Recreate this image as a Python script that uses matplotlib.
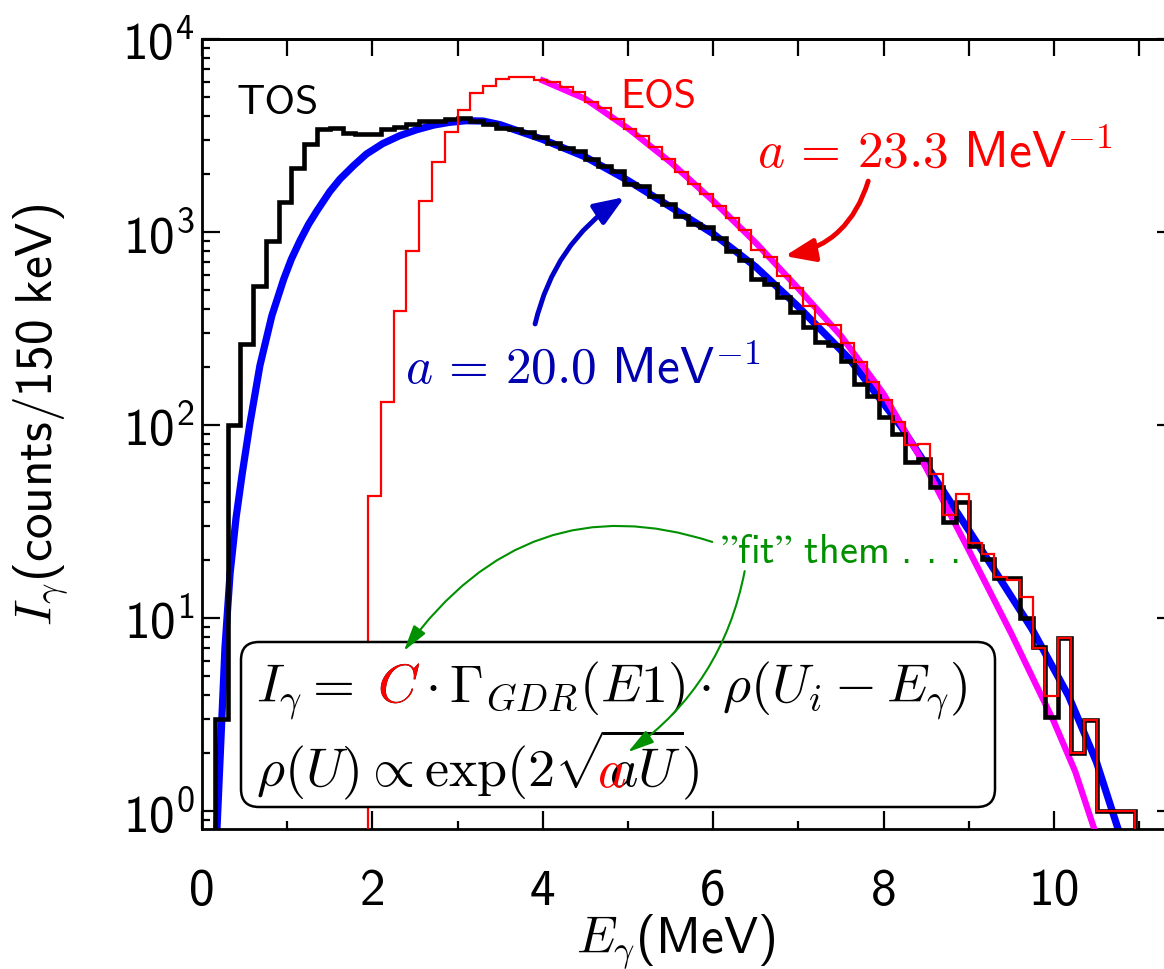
import numpy as np
import matplotlib
matplotlib.use("Agg")
import matplotlib.pyplot as plt
from matplotlib.patches import FancyBboxPatch
from matplotlib.ticker import MultipleLocator, LogLocator, FuncFormatter, NullFormatter
from matplotlib.transforms import offset_copy

plt.rcParams['mathtext.fontset'] = 'cm'
plt.rcParams['font.family'] = ['cmss10', 'DejaVu Sans']

# gamma spectra, 150 keV bins
BIN_WIDTH = 0.15
TOS_FIRST_EDGE = 0.15
tos_counts = [3, 100, 263, 527, 901, 1425, 2147, 2858, 3400, 3480,
              3260, 3220, 3220, 3400, 3500, 3640, 3760, 3780, 3840, 3880,
              3750, 3620, 3480, 3400, 3310, 3105, 2900, 2715, 2630, 2380,
              2198, 2070, 1778, 1730, 1537, 1390, 1210, 1096, 1060, 930,
              800, 715, 571, 538, 459, 387, 321, 268, 261, 215,
              163, 142, 110, 90, 64, 67, 48, 31.5, 40, 23.5,
              20.2, 16.1, 16.1, 10.0, 7.05, 3.06, 7.85, 2.01, 2.98, 1.0,
              1.0, 1.0]
EOS_FIRST_EDGE = 1.95
eos_counts = [43, 132, 391, 800, 1452, 2313, 3283, 4295, 5230, 5725,
              6205, 6330, 6330, 6135, 5970, 5625, 5300, 4735, 4375, 3875,
              3440, 3130, 2745, 2390, 2040, 1773, 1574, 1360, 1180, 1030,
              810, 739, 591, 511, 414, 334, 330, 267, 213, 168,
              135, 104, 79, 80, 56, 34, 44, 24.4, 21.6, 16.4,
              15.7, 12.9, 6.97, 3.96, 7.85, 2.01, 2.98, 1.0, 1.0, 1.0]

# fitted curves (a = 20.0 and a = 23.3 MeV^-1)
fit20_energy = [0.17, 0.22, 0.27, 0.33, 0.40, 0.47, 0.56, 0.68, 0.82, 0.96,
                1.05, 1.15, 1.25, 1.35, 1.50, 1.62, 1.78, 1.93, 2.12, 2.32,
                2.52, 2.72, 2.90, 3.10, 3.30, 3.50, 4.00, 4.50, 5.00, 5.50,
                6.00, 6.50, 7.00, 7.60, 8.20, 8.66, 9.00, 9.21, 9.74, 10.17,
                10.50, 10.74, 10.80]
fit20_counts = [0.7, 2.2, 7.0, 17, 33, 55, 100, 203, 368, 571,
                725, 901, 1095, 1289, 1620, 1882, 2210, 2536, 2870, 3156,
                3390, 3583, 3700, 3775, 3760, 3600, 3020, 2450, 1850, 1350,
                980, 660, 410, 220, 99, 48.5, 28.5, 20.5, 8.8, 3.96,
                1.79, 0.84, 0.7]
fit23_energy = [4.00, 4.50, 5.00, 5.50, 6.00, 6.50, 7.00, 7.50, 8.00, 8.50,
                9.00, 9.50, 10.00, 10.25, 10.46, 10.50]
fit23_counts = [6100, 4900, 3450, 2300, 1450, 880, 510, 290, 145, 60,
                22.5, 8.3, 2.9, 1.6, 0.84, 0.75]

tos_edges = np.round(TOS_FIRST_EDGE + BIN_WIDTH * np.arange(len(tos_counts) + 1), 2)
eos_edges = np.round(EOS_FIRST_EDGE + BIN_WIDTH * np.arange(len(eos_counts) + 1), 2)

fig = plt.figure(figsize=(11.64, 9.70), dpi=100)
ax = fig.add_axes([0.1735, 0.1443, 0.8359, 0.8144])

ax.plot(fit20_energy, fit20_counts, color='#0000ff', lw=5.2, zorder=2)
ax.plot(fit23_energy, fit23_counts, color='#ff00ff', lw=4.5, zorder=3)
ax.stairs(tos_counts, tos_edges, color='black', lw=3.3, zorder=4)
ax.stairs(eos_counts, eos_edges, color='#ff0000', lw=1.6, zorder=5)

ax.set_yscale('log')
ax.set_xlim(0, 11.42)
ax.set_ylim(0.807, 1e4)

ax.xaxis.set_major_locator(MultipleLocator(2))
ax.xaxis.set_minor_locator(MultipleLocator(1))
ax.yaxis.set_major_locator(LogLocator(base=10, numticks=10))
ax.yaxis.set_minor_locator(LogLocator(base=10, subs=np.arange(2, 10), numticks=20))
ax.yaxis.set_minor_formatter(NullFormatter())
ax.xaxis.set_major_formatter(FuncFormatter(lambda v, p: '%d' % v))
ax.yaxis.set_major_formatter(FuncFormatter(lambda v, p: r'$\mathregular{10^{%d}}$' % round(np.log10(v))))

ax.tick_params(which='both', direction='in', bottom=True, left=True, right=True, top=False)
ax.tick_params(which='major', length=13, width=1.6, labelsize=37)
ax.tick_params(which='minor', length=6, width=1.6)
ax.tick_params(axis='x', which='major', pad=28)
ax.tick_params(axis='y', which='major', pad=5)
for sp in ax.spines.values():
    sp.set_linewidth(2.0)

top = ax.secondary_xaxis('top')
top.set_xticks(np.arange(0, 12))
top.tick_params(direction='in', length=12, width=1.6, labeltop=False)
top.spines['top'].set_linewidth(2.0)

ax.set_xlabel(r'$E_\gamma\mathregular{(MeV)}$', fontsize=37)
ax.set_ylabel(r'$I_\gamma\mathregular{(counts/150\ keV)}$', fontsize=37)
ax.xaxis.set_label_coords(0.487, -0.104)
ax.yaxis.set_label_coords(-0.135, 0.526)

# labels on the plot
ax.text(0.41, 4140, 'TOS', fontsize=30, va='baseline')
ax.text(4.91, 4446, 'EOS', fontsize=29, color='#ff0000', va='baseline')
ax.text(6.51, 2198, r'$a \,=\, 23.3\ \mathregular{MeV}^{-1}$', fontsize=37, color='#ff0000', va='baseline')
ax.text(2.38, 167, r'$a \,=\, 20.0\ \mathregular{MeV}^{-1}$', fontsize=37, color='#0000b0', va='baseline')
ax.text(6.08, 19.5, '$\\mathregular{\u201dfit\u201d\\ them\\ .\\,.\\,.}$', fontsize=29,
        color='#009000', va='baseline')

ax.annotate('', xy=(4.96, 1518), xytext=(3.91, 334),
            arrowprops=dict(arrowstyle='-|>,head_length=0.9,head_width=0.35', mutation_scale=20,
                            color='#0000c8', lw=3.5, shrinkA=0, shrinkB=0,
                            connectionstyle='arc3,rad=-0.2'))
ax.annotate('', xy=(6.84, 751), xytext=(7.82, 1837),
            arrowprops=dict(arrowstyle='-|>,head_length=0.9,head_width=0.35', mutation_scale=20,
                            color='#ee0000', lw=3.5, shrinkA=0, shrinkB=0,
                            connectionstyle='arc3,rad=-0.3'))

# formula box
box = FancyBboxPatch((2.41, 1.62), 7.54, 1.65, boxstyle='round,pad=0,rounding_size=0.18',
                     transform=fig.dpi_scale_trans, facecolor='white', edgecolor='black',
                     lw=1.8, zorder=6)
ax.add_patch(box)

FSZ = 39
line1 = r'$I_\gamma = \; C \cdot \Gamma_{GDR}(E1) \cdot \rho(U_i - E_\gamma)$'
line2 = r'$\rho(U) \propto \exp(2\sqrt{aU})$'
x0 = 0.634
ax.text(x0, 3.71, line1, fontsize=FSZ, va='baseline', zorder=7)
ax.text(x0, 1.35, line2, fontsize=FSZ, va='baseline', zorder=7)

renderer = fig.canvas.get_renderer()


def text_width(s):
    t = ax.text(0, 0, s, fontsize=FSZ, transform=ax.transAxes)
    w = t.get_window_extent(renderer).width
    t.remove()
    return w


# red C and a drawn exactly over the black glyphs
dx_c = text_width(r'$I_\gamma = \; C$') - text_width(r'$C$')
ax.text(x0, 3.71, r'$C$', fontsize=FSZ, va='baseline', color='#ff0000', zorder=8,
        transform=offset_copy(ax.transData, fig=fig, x=dx_c, units='dots'))

thick = 0.75 / 12.0 * FSZ * fig.dpi / 72.0
adv_a = text_width(r'$aa$') - text_width(r'$a$')
dx_a = text_width(r'$\rho(U) \propto \exp(2\sqrt{a}$') - adv_a - 2 * thick - 2
ax.text(x0, 1.35, r'$a$', fontsize=FSZ, va='baseline', color='#ff0000', zorder=8,
        transform=offset_copy(ax.transData, fig=fig, x=dx_a, units='dots'))

green = dict(arrowstyle='-|>,head_length=0.8,head_width=0.22', mutation_scale=20,
             color='#009000', lw=1.5, shrinkA=0, shrinkB=0)
ax.annotate('', xy=(2.37, 6.75), xytext=(5.99, 24.8), zorder=9,
            arrowprops=dict(green, connectionstyle='angle3,angleA=162,angleB=54'))
ax.annotate('', xy=(5.0, 2.02), xytext=(6.37, 17.5), zorder=9,
            arrowprops=dict(green, connectionstyle='arc3,rad=-0.2'))

fig.savefig('out.png', dpi=100)
